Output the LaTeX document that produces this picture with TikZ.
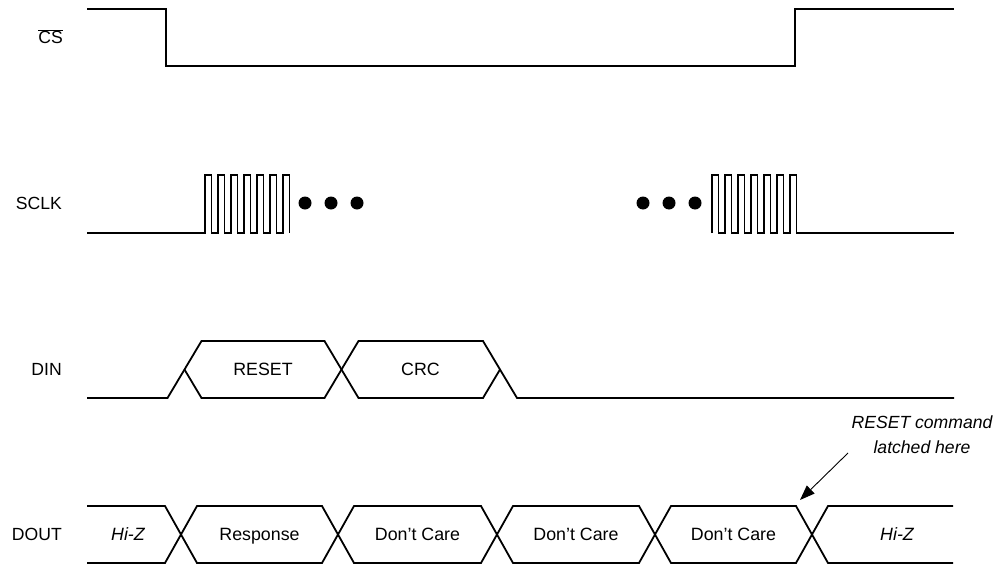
\documentclass[tikz,border=0pt]{standalone}
\usepackage{fontspec}
\setmainfont{Liberation Sans}
\usetikzlibrary{arrows.meta}
\begin{document}
\begin{tikzpicture}[x=1pt,y=-1pt,
  sig/.style={line width=1.8pt,line join=miter},
  csig/.style={line width=2.3pt,line join=miter},
  clk/.style={line width=1.7pt,line join=miter},
  lbl/.style={anchor=east,inner sep=0pt,text height=12.8pt,text depth=0pt,font=\fontsize{17.6}{21}\selectfont},
  txt/.style={inner sep=0pt,text height=12.8pt,text depth=0pt,font=\fontsize{17.8}{21}\selectfont},
  note/.style={inner sep=0pt,align=center,font=\fontsize{17.6}{25}\selectfont\itshape},
  dot/.style={fill=black}]
\useasboundingbox (0,0) rectangle (999,565);
% labels
\node[lbl] (lcs) at (63,37) {$\overline{\mbox{CS}}$};
\node[lbl] (lsclk) at (62,203) {SCLK};
\node[lbl] (ldin) at (62,369) {DIN};
\node[lbl] (ldout) at (62,534.5) {DOUT};
% CS
\draw[csig] (87,9) -- (166,9) -- (166,66) -- (795,66) -- (795,9) -- (954,9);
% SCLK burst 1
\draw[clk] (87,233) -- (205,233)
  \foreach \i in {0,...,5} { -- ({205+13*\i},175) -- ({211.5+13*\i},175) -- ({211.5+13*\i},233) -- ({218+13*\i},233) }
  -- (283,175) -- (289.5,175) -- (289.5,233);
% SCLK burst 2
\draw[clk] (712,233)
  \foreach \i in {0,...,5} { -- ({712+13*\i},175) -- ({718.5+13*\i},175) -- ({718.5+13*\i},233) -- ({725+13*\i},233) }
  -- (790,175) -- (796.5,175) -- (796.5,233) -- (954,233);
% dots
\foreach \x in {305,331,357,643,669,695}
  \fill[dot] (\x,203) circle[radius=6.5];
% DIN
\draw[sig] (87,398) -- (167.5,398) -- (201.5,341) -- (324.5,341) -- (358.5,398) -- (483,398) -- (500,369.5);
\draw[sig] (184.5,369.5) -- (201.5,398) -- (324.5,398) -- (358.5,341) -- (483,341) -- (517,398) -- (954,398);
\node[txt] (treset) at (263,369) {RESET};
\node[txt] (tcrc) at (420.5,369) {CRC};
% DOUT
\draw[sig] (87,506) -- (165,506) -- (197,563) -- (322,563) -- (354,506) -- (481,506) -- (513,563) -- (639,563) -- (671,506) -- (796,506) -- (828,563) -- (953,563);
\draw[sig] (87,563) -- (165,563) -- (197,506) -- (322,506) -- (354,563) -- (481,563) -- (513,506) -- (639,506) -- (671,563) -- (796,563) -- (828,506) -- (953,506);
\node[txt] (thiz1) at (128,534.5) {\itshape Hi-Z};
\node[txt] (tresp) at (259.5,534.5) {Response};
\node[txt] (tdc1) at (417.5,534.5) {Don’t Care};
\node[txt] (tdc2) at (576,534.5) {Don’t Care};
\node[txt] (tdc3) at (733.5,534.5) {Don’t Care};
\node[txt] (thiz2) at (897,534.5) {\itshape Hi-Z};
% annotation
\node[note] (anno) at (922,435) {RESET command\\latched here};
\coordinate (latch) at (800,500);
\coordinate (astart) at (848,453);
\draw[line width=0.9pt,-{Triangle[length=15pt,width=11pt]}] (astart) -- (latch);
\end{tikzpicture}
\end{document}
